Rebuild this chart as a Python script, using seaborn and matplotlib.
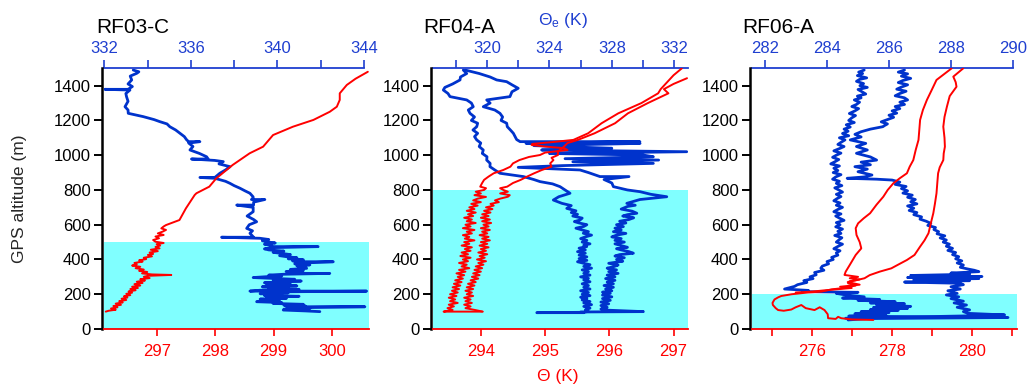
import numpy as np
import matplotlib
matplotlib.use("Agg")
import matplotlib.pyplot as plt
import seaborn as sns
from matplotlib.ticker import FixedLocator

sns.set_style("white")
plt.rcParams['font.family'] = ['Liberation Sans', 'DejaVu Sans']
plt.rcParams['mathtext.fontset'] = 'custom'
plt.rcParams['mathtext.rm'] = 'Liberation Sans'
plt.rcParams['mathtext.it'] = 'Liberation Sans:italic'

RED = '#FF0000'
BLUE = '#0033CC'
AXBLUE = '#1F3FD0'
CYAN = '#80FFFF'

# ---------------- data: (altitude m, value K) ----------------
# RF03-C
rf03_theta = [(1480, 300.61), (1440, 300.40), (1404, 300.25), (1356, 300.13), (1318, 300.13), (1279, 300.08),
              (1250, 299.96), (1203, 299.68), (1164, 299.33), (1116, 298.99), (1049, 298.82), (1011, 298.59),
              (944, 298.30), (867, 298.02), (819, 297.90), (781, 297.68), (771, 297.65), (694, 297.50),
              (627, 297.39), (598, 297.16), (590, 297.12), (579, 297.08), (570, 297.16), (560, 297.10),
              (550, 297.02), (541, 297.12), (532, 296.98), (522, 297.04), (512, 296.94), (502, 296.98),
              (495, 297.12), (488, 297.00), (480, 297.06), (472, 296.98), (464, 297.05), (456, 296.90),
              (448, 297.02), (440, 296.88), (432, 296.94), (426, 296.85), (418, 296.92), (410, 296.78),
              (402, 296.82), (395, 296.70), (388, 296.76), (380, 296.62), (372, 296.66), (365, 296.58),
              (358, 296.72), (350, 296.64), (342, 296.78), (335, 296.70), (328, 296.84), (320, 296.75),
              (314, 296.92), (311, 297.25), (306, 296.85), (300, 296.78), (293, 296.88), (286, 296.72),
              (279, 296.80), (272, 296.66), (265, 296.76), (258, 296.62), (250, 296.72), (243, 296.58),
              (236, 296.68), (230, 296.55), (223, 296.64), (216, 296.52), (209, 296.58), (202, 296.48),
              (195, 296.55), (188, 296.44), (181, 296.50), (174, 296.40), (167, 296.48), (160, 296.36),
              (153, 296.42), (146, 296.30), (139, 296.39), (132, 296.26), (125, 296.33), (118, 296.22),
              (111, 296.30), (105, 296.18), (100, 296.13)]
rf03_thetae = [(1490, 333.34), (1480, 333.60), (1471, 333.50), (1455, 333.20), (1433, 333.27), (1410, 333.10),
               (1395, 333.30), (1379, 333.10), (1379, 332.03), (1375, 333.19), (1355, 333.00), (1337, 333.03),
               (1310, 333.10), (1279, 332.96), (1260, 333.10), (1241, 333.11), (1222, 333.80), (1205, 334.30),
               (1193, 334.57), (1180, 334.90), (1164, 335.03), (1145, 335.30), (1126, 335.50), (1107, 335.70),
               (1088, 335.81), (1078, 335.90), (1078, 336.42), (1070, 335.90), (1050, 336.10), (1030, 335.96),
               (1010, 336.40), (991, 336.73), (978, 336.80), (978, 336.03), (970, 337.10), (963, 337.50),
               (950, 337.30), (934, 337.81), (915, 337.60), (896, 337.34), (872, 337.11), (872, 336.42),
               (867, 337.11), (850, 337.60), (838, 337.81), (825, 338.00), (810, 338.27), (795, 338.50),
               (781, 338.73), (760, 338.88), (752, 338.88), (745, 338.80), (745, 339.42), (730, 338.90),
               (713, 338.90), (713, 338.12), (700, 338.88), (675, 338.88), (650, 338.60), (630, 338.90),
               (617, 339.04), (600, 338.70), (579, 338.58), (565, 338.85), (551, 338.73), (528, 338.90),
               (528, 337.42), (522, 339.19), (515, 339.60), (508, 339.30), (502, 339.50), (495, 339.90),
               (488, 339.40), (481, 339.70), (474, 339.81), (474, 341.88), (468, 339.70), (461, 339.40),
               (455, 339.60), (448, 340.30), (441, 339.80), (435, 340.20), (428, 340.60), (422, 340.10),
               (416, 340.42), (410, 340.90), (404, 340.50), (398, 341.20), (392, 340.70), (387, 341.04),
               (387, 342.58), (381, 341.30), (375, 340.80), (369, 341.50), (363, 340.90), (357, 341.30),
               (349, 341.35), (343, 340.60), (337, 341.20), (331, 340.40), (325, 341.00), (320, 341.04),
               (320, 342.42), (315, 340.30), (310, 339.60), (305, 340.20), (301, 339.50), (296, 338.88),
               (291, 339.90), (286, 340.80), (281, 339.80), (276, 341.10), (271, 340.20), (266, 339.40),
               (263, 339.81), (258, 340.60), (253, 339.50), (248, 340.90), (243, 339.30), (238, 340.50),
               (233, 339.60), (228, 341.00), (223, 339.20), (218, 338.73), (218, 344.12), (213, 339.30),
               (208, 340.50), (203, 339.20), (198, 340.20), (193, 339.40), (188, 341.00), (183, 339.50),
               (177, 340.42), (172, 339.20), (167, 340.10), (162, 339.40), (157, 339.04), (152, 340.20),
               (147, 339.80), (142, 341.20), (137, 340.30), (132, 341.30), (128, 340.42), (128, 344.04),
               (123, 340.60), (118, 341.50), (114, 340.30), (109, 340.27), (104, 341.30), (100, 341.96)]

# RF04-A (two profiles each)
rf04_theta_a = [(1500, 297.13), (1460, 297.00), (1420, 296.90), (1380, 296.80), (1356, 296.76), (1300, 296.50),
                (1241, 296.14), (1184, 295.88), (1126, 295.67), (1088, 295.44), (1075, 295.10), (1065, 294.80),
                (1059, 294.79), (1050, 295.00), (1040, 295.30), (1030, 295.35), (1015, 295.00), (1001, 294.92),
                (990, 294.75), (972, 294.60), (953, 294.50), (934, 294.46), (915, 294.35), (896, 294.20),
                (877, 294.12), (858, 294.05), (840, 294.02), (819, 293.99), (810, 294.08), (800, 294.05),
                (790, 293.92), (780, 294.00), (770, 293.90), (760, 294.08), (750, 293.95), (740, 293.88),
                (730, 294.00), (720, 293.85), (710, 293.95), (700, 293.82), (690, 293.90), (680, 293.78),
                (670, 293.92), (660, 293.80), (650, 293.88), (640, 293.74), (630, 293.86), (620, 293.78),
                (610, 293.92), (600, 293.76), (590, 293.84), (580, 293.72), (570, 293.90), (560, 293.78),
                (550, 293.86), (540, 293.72), (530, 293.82), (520, 293.75), (510, 293.90), (500, 293.74),
                (490, 293.82), (480, 293.70), (470, 293.86), (460, 293.75), (450, 293.84), (440, 293.70),
                (430, 293.80), (420, 293.68), (410, 293.84), (400, 293.72), (390, 293.80), (380, 293.66),
                (370, 293.78), (360, 293.70), (350, 293.82), (340, 293.66), (330, 293.76), (320, 293.62),
                (310, 293.74), (300, 293.64), (290, 293.72), (280, 293.60), (270, 293.70), (260, 293.58),
                (250, 293.68), (240, 293.56), (230, 293.66), (220, 293.55), (210, 293.64), (200, 293.52),
                (190, 293.62), (180, 293.50), (170, 293.60), (160, 293.52), (150, 293.64), (140, 293.50),
                (130, 293.58), (120, 293.48), (110, 293.56), (100, 293.42), (100, 294.02)]
rf04_theta_b = [(1443, 297.21), (1410, 297.00), (1380, 296.85), (1356, 296.92), (1300, 296.60), (1241, 296.29),
                (1184, 296.09), (1126, 295.77), (1088, 295.51), (1070, 295.35), (1045, 295.28), (1020, 295.20),
                (1001, 295.20), (985, 295.10), (972, 295.13), (953, 295.08), (934, 295.10), (915, 294.95),
                (896, 294.83), (877, 294.72), (858, 294.62), (840, 294.50), (819, 294.41), (810, 294.30),
                (800, 294.35), (790, 294.42), (780, 294.30), (770, 294.45), (761, 294.42), (750, 294.30),
                (740, 294.22), (730, 294.28), (720, 294.15), (710, 294.20), (700, 294.08), (690, 294.18),
                (680, 294.05), (670, 294.15), (660, 294.02), (650, 294.12), (640, 294.00), (630, 294.14),
                (620, 294.02), (610, 294.16), (600, 294.04), (590, 294.12), (580, 294.00), (570, 294.14),
                (560, 294.02), (550, 294.10), (540, 293.98), (530, 294.12), (520, 294.02), (510, 294.14),
                (500, 294.00), (490, 294.10), (480, 293.98), (470, 294.12), (460, 294.00), (450, 294.08),
                (440, 293.96), (430, 294.10), (420, 293.98), (410, 294.06), (400, 293.94), (390, 294.08),
                (380, 293.96), (370, 294.04), (360, 293.92), (350, 294.02), (340, 293.90), (330, 294.00),
                (320, 293.88), (310, 293.98), (300, 293.86), (290, 293.96), (280, 293.84), (270, 293.92),
                (260, 293.80), (250, 293.90), (240, 293.78), (230, 293.88), (220, 293.76), (210, 293.86),
                (200, 293.78), (190, 293.88), (180, 293.74), (170, 293.84), (160, 293.76), (150, 293.86),
                (140, 293.74), (130, 293.84), (120, 293.76), (110, 293.90), (100, 294.03)]
rf04_thetae_a = [(1490, 318.48), (1470, 318.70), (1450, 318.30), (1433, 318.27), (1410, 317.80), (1390, 317.30),
                 (1375, 317.20), (1355, 317.50), (1337, 317.63), (1318, 318.70), (1300, 319.00), (1279, 319.12),
                 (1260, 318.80), (1241, 318.91), (1220, 319.20), (1200, 319.00), (1184, 319.40), (1164, 319.34),
                 (1145, 319.10), (1126, 319.40), (1107, 319.20), (1088, 319.34), (1070, 319.60), (1050, 319.50),
                 (1030, 319.76), (1010, 319.70), (991, 320.00), (972, 319.98), (953, 320.20), (934, 320.19),
                 (915, 320.50), (896, 320.83), (877, 322.33), (860, 323.00), (848, 323.40), (835, 324.20),
                 (819, 324.68), (800, 325.00), (781, 325.32), (761, 324.60), (742, 324.25), (723, 324.80),
                 (710, 325.40), (694, 325.11), (680, 325.70), (670, 325.40), (660, 325.80), (650, 325.50),
                 (638, 326.10), (627, 325.96), (618, 325.60), (610, 325.90), (600, 326.40), (590, 326.20),
                 (580, 325.70), (570, 326.10), (560, 326.50), (551, 326.17), (540, 326.70), (530, 326.30),
                 (520, 326.00), (510, 326.40), (500, 326.10), (490, 326.60), (482, 326.20), (474, 326.39),
                 (465, 325.90), (455, 326.30), (445, 325.80), (436, 326.30), (425, 325.90), (415, 326.40),
                 (405, 325.90), (395, 326.40), (387, 325.80), (378, 326.20), (370, 326.60), (360, 326.20),
                 (350, 326.70), (340, 326.10), (330, 326.50), (320, 326.20), (310, 326.60), (300, 326.00),
                 (291, 326.50), (282, 326.20), (272, 326.60), (260, 326.10), (250, 326.50), (240, 326.20),
                 (230, 326.60), (220, 326.00), (210, 326.50), (200, 326.10), (192, 326.60), (183, 326.00),
                 (175, 326.40), (167, 326.10), (158, 326.60), (150, 326.20), (140, 326.70), (130, 326.20),
                 (120, 326.60), (110, 326.30), (102, 326.50), (96, 326.20), (94, 323.19), (94, 326.20)]
rf04_thetae_b = [(1490, 318.60), (1470, 319.50), (1450, 320.20), (1433, 320.62), (1423, 321.26), (1405, 321.60),
                 (1385, 322.00), (1365, 321.60), (1337, 321.47), (1318, 319.98), (1300, 320.20), (1279, 319.76),
                 (1260, 320.50), (1241, 320.83), (1220, 321.00), (1200, 320.90), (1184, 321.26), (1164, 321.30),
                 (1145, 321.50), (1126, 321.69), (1107, 321.80), (1090, 321.90), (1078, 322.12), (1078, 329.80),
                 (1068, 322.50), (1068, 329.81), (1055, 323.00), (1040, 328.00), (1030, 323.50), (1020, 332.80),
                 (1010, 324.00), (1001, 330.00), (991, 330.66), (980, 325.00), (972, 331.00), (962, 325.50),
                 (953, 330.66), (940, 324.80), (930, 322.00), (915, 325.96), (900, 326.50), (877, 327.24),
                 (877, 329.10), (860, 327.50), (840, 328.00), (819, 328.10), (800, 329.00), (790, 329.81),
                 (775, 330.50), (761, 331.52), (745, 329.80), (723, 328.96), (712, 329.50), (705, 329.00),
                 (690, 328.60), (678, 329.30), (666, 329.60), (658, 329.00), (650, 328.70), (640, 329.40),
                 (630, 329.10), (620, 328.50), (610, 328.90), (600, 328.30), (589, 328.74), (580, 328.20),
                 (570, 328.60), (560, 328.10), (550, 328.90), (540, 328.30), (530, 328.00), (520, 328.60),
                 (510, 328.20), (500, 328.80), (490, 328.20), (480, 328.60), (470, 329.00), (462, 328.30),
                 (455, 328.60), (445, 329.10), (436, 329.38), (428, 328.50), (420, 328.20), (410, 328.80),
                 (400, 328.30), (390, 328.70), (378, 327.80), (368, 328.40), (358, 328.10), (350, 327.70),
                 (340, 328.30), (330, 327.80), (320, 328.40), (310, 327.70), (300, 328.20), (290, 327.60),
                 (280, 328.20), (270, 327.70), (260, 328.10), (250, 327.50), (240, 328.10), (230, 327.60),
                 (220, 328.00), (212, 327.40), (205, 327.90), (195, 327.40), (185, 328.00), (175, 327.40),
                 (165, 327.90), (155, 327.30), (145, 327.80), (135, 327.30), (125, 327.70), (115, 327.30),
                 (108, 327.80), (100, 330.02), (98, 326.00)]

# RF06-A
rf06_theta_a = [(1500, 279.50), (1433, 279.12), (1375, 279.00), (1318, 278.88), (1260, 278.78), (1203, 278.71),
                (1145, 278.69), (1088, 278.67), (1030, 278.60), (972, 278.54), (934, 278.45), (896, 278.38),
                (867, 278.20), (838, 278.04), (800, 277.90), (761, 277.79), (715, 277.62), (666, 277.46),
                (637, 277.30), (608, 277.16), (580, 277.10), (541, 277.12), (500, 277.20), (464, 277.24),
                (426, 277.10), (368, 276.95), (330, 276.85), (311, 276.82), (300, 277.16), (292, 276.95),
                (285, 277.20), (275, 276.95), (263, 276.91), (250, 277.10), (236, 276.80), (228, 276.50),
                (215, 276.24), (210, 275.90), (200, 275.50), (190, 275.24), (182, 275.16), (170, 275.07),
                (150, 275.02), (138, 275.03), (120, 275.10), (109, 275.16), (105, 275.30), (112, 275.49),
                (125, 275.60), (138, 275.74), (120, 275.85), (109, 276.07), (125, 276.20), (109, 276.32),
                (100, 276.35), (85, 276.40), (62, 276.41), (58, 276.60), (70, 276.66), (62, 276.74),
                (55, 277.00), (52, 277.54)]
rf06_theta_b = [(1500, 279.79), (1452, 279.54), (1420, 279.60), (1394, 279.62), (1340, 279.45), (1279, 279.38),
                (1220, 279.32), (1164, 279.29), (1100, 279.32), (1049, 279.33), (1010, 279.30), (972, 279.29),
                (930, 279.20), (896, 279.16), (840, 279.14), (781, 279.12), (720, 279.08), (666, 279.04),
                (610, 278.98), (551, 278.92), (510, 278.82), (474, 278.71), (426, 278.57), (397, 278.38),
                (375, 278.20), (349, 277.99), (330, 277.70), (310, 277.45), (292, 277.32), (280, 277.10),
                (270, 276.90), (255, 277.20), (243, 276.71), (236, 277.00), (228, 276.60), (222, 276.30),
                (215, 276.00), (210, 275.60)]
rf06_thetae_a = [(1490, 285.20), (1478, 285.02), (1470, 285.15), (1458, 284.98), (1445, 285.28), (1436, 285.05),
                 (1425, 284.95), (1412, 285.18), (1400, 285.06), (1390, 285.30), (1378, 285.00), (1366, 285.12),
                 (1352, 285.25), (1340, 284.98), (1330, 285.10), (1318, 284.88), (1305, 285.05), (1292, 284.95),
                 (1280, 284.80), (1268, 285.02), (1255, 284.90), (1240, 284.72), (1228, 284.92), (1215, 284.80),
                 (1200, 284.70), (1188, 284.88), (1175, 284.62), (1162, 284.75), (1150, 284.55), (1138, 284.68),
                 (1125, 284.50), (1112, 284.70), (1100, 284.40), (1088, 284.58), (1075, 284.46), (1062, 284.35),
                 (1050, 284.55), (1038, 284.40), (1025, 284.22), (1012, 284.45), (1000, 284.30), (988, 284.18),
                 (975, 284.38), (962, 284.25), (950, 284.12), (938, 284.40), (925, 284.22), (912, 284.35),
                 (900, 284.20), (888, 284.45), (875, 284.28), (862, 284.18), (850, 284.40), (838, 284.30),
                 (825, 284.48), (812, 284.25), (800, 284.38), (788, 284.50), (775, 284.30), (762, 284.45),
                 (750, 284.32), (738, 284.22), (725, 284.42), (712, 284.30), (700, 284.50), (688, 284.35),
                 (675, 284.22), (662, 284.45), (650, 284.28), (638, 284.40), (625, 284.55), (612, 284.30),
                 (600, 284.42), (588, 284.28), (575, 284.50), (562, 284.35), (550, 284.45), (538, 284.25),
                 (525, 284.48), (512, 284.38), (500, 284.30), (488, 284.50), (475, 284.35), (462, 284.22),
                 (450, 284.42), (438, 284.30), (425, 284.35), (412, 284.15), (400, 284.20), (388, 284.00),
                 (375, 284.05), (362, 283.85), (350, 283.80), (338, 283.90), (325, 283.60), (312, 283.65),
                 (300, 283.45), (290, 283.55), (278, 283.25), (268, 283.35), (255, 283.05), (245, 282.95),
                 (236, 282.75), (230, 282.63), (222, 283.40), (215, 283.20), (211, 285.00), (205, 284.30),
                 (196, 284.60), (185, 285.20), (178, 284.50), (170, 285.70), (165, 285.00), (157, 286.20),
                 (150, 285.40), (145, 286.50), (138, 285.60), (130, 286.70), (124, 285.50), (119, 286.60),
                 (112, 285.40), (108, 286.30), (100, 285.10), (94, 286.00), (88, 284.90), (81, 285.90),
                 (74, 284.70), (66, 289.84), (60, 285.30), (52, 284.68)]
rf06_thetae_b = [(1490, 286.50), (1478, 286.30), (1468, 286.60), (1455, 286.40), (1442, 286.70), (1430, 286.45),
                 (1418, 286.30), (1405, 286.60), (1392, 286.40), (1380, 286.25), (1368, 286.55), (1355, 286.35),
                 (1342, 286.20), (1330, 286.50), (1318, 286.60), (1305, 286.35), (1292, 286.50), (1280, 286.20),
                 (1268, 286.35), (1255, 286.10), (1242, 286.25), (1230, 286.00), (1218, 286.15), (1205, 285.95),
                 (1192, 285.75), (1180, 285.95), (1170, 285.85), (1164, 285.80), (1150, 285.40), (1135, 285.10),
                 (1120, 284.90), (1105, 285.10), (1088, 284.75), (1068, 285.25), (1050, 284.95), (1030, 285.30),
                 (1011, 284.95), (990, 285.40), (972, 285.60), (960, 285.10), (945, 285.40), (934, 284.90),
                 (920, 285.30), (905, 285.00), (886, 285.45), (875, 285.20), (867, 284.65), (862, 285.60),
                 (857, 286.10), (845, 286.35), (832, 286.20), (820, 286.55), (808, 286.40), (795, 286.60),
                 (782, 286.45), (770, 286.75), (758, 286.60), (745, 286.85), (732, 286.70), (720, 286.90),
                 (708, 286.60), (695, 286.80), (682, 286.65), (670, 286.90), (658, 286.80), (645, 287.05),
                 (632, 287.00), (620, 287.20), (608, 287.35), (596, 287.25), (584, 287.50), (572, 287.45),
                 (560, 287.60), (548, 287.55), (536, 287.80), (524, 287.65), (512, 287.85), (500, 287.75),
                 (488, 287.95), (476, 287.85), (464, 288.05), (452, 287.90), (440, 288.15), (428, 288.05),
                 (416, 288.25), (404, 288.15), (392, 288.35), (380, 288.20), (368, 288.40), (355, 288.30),
                 (345, 288.55), (338, 288.75), (330, 288.90), (322, 288.00), (315, 288.60), (308, 286.70),
                 (302, 289.00), (296, 286.60), (290, 288.90), (284, 286.80), (278, 288.60), (270, 286.50),
                 (263, 288.30), (255, 288.40), (243, 288.00), (230, 288.30), (220, 287.90), (205, 288.20),
                 (196, 287.85), (185, 288.25), (175, 288.00), (160, 288.40), (150, 288.10), (138, 288.50),
                 (125, 288.20), (110, 288.60), (100, 288.40), (90, 288.55), (81, 289.73), (75, 288.40),
                 (62, 284.60)]

titles = ['RF03-C', 'RF04-A', 'RF06-A']
mixed_layer_top = [500, 800, 200]
theta_series = [[rf03_theta], [rf04_theta_a, rf04_theta_b], [rf06_theta_a, rf06_theta_b]]
thetae_series = [[rf03_thetae], [rf04_thetae_a, rf04_thetae_b], [rf06_thetae_a, rf06_thetae_b]]
theta_lims = [(296.10, 300.63), (293.25, 297.23), (274.50, 281.125)]
thetae_lims = [(331.99, 344.23), (316.52, 332.90), (281.57, 290.12)]
theta_major = [[297, 298, 299, 300], [294, 295, 296, 297], [276, 278, 280]]
theta_minor = [[], [], [275, 277, 279, 281]]
thetae_major = [[332, 336, 340, 344], [320, 324, 328, 332], [282, 284, 286, 288, 290]]
thetae_minor = [[334, 338, 342], [318, 322, 326, 330], []]
thetae_bounds = [(332, 344), None, (281.57, 290)]
y_ticks = [0, 200, 400, 600, 800, 1000, 1200, 1400]

# ---------------- layout ----------------
W, H = 1030, 386
fig = plt.figure(figsize=(W / 100, H / 100), dpi=100)
rects_px = [(104, 369), (432.7, 688.3), (751.7, 1016.7)]
title_x_px = [96, 423, 742.7]
bottom_px, top_px = 329, 68.3

for i in range(3):
    x0, x1 = rects_px[i]
    rect = [x0 / W, 1 - bottom_px / H, (x1 - x0) / W, (bottom_px - top_px) / H]
    ax = fig.add_axes(rect)
    axt = ax.twiny()
    axt.set_zorder(0)
    ax.set_zorder(1)
    ax.patch.set_visible(False)
    axt.patch.set_visible(False)

    axt.axhspan(0, mixed_layer_top[i], color=CYAN, lw=0, zorder=0)

    for s in thetae_series[i]:
        arr = np.array(s)
        sns.lineplot(x=arr[:, 1], y=arr[:, 0], ax=axt, sort=False, estimator=None,
                     color=BLUE, lw=2.0, zorder=2)
    for s in theta_series[i]:
        arr = np.array(s)
        sns.lineplot(x=arr[:, 1], y=arr[:, 0], ax=ax, sort=False, estimator=None,
                     color=RED, lw=1.4, zorder=3)

    ax.set_xlim(*theta_lims[i])
    axt.set_xlim(*thetae_lims[i])
    ax.set_ylim(0, 1500)
    axt.set_ylim(0, 1500)
    for a in (ax, axt):
        a.set_xlabel('')
        a.set_ylabel('')

    # spines
    for sp in ['top', 'right']:
        ax.spines[sp].set_visible(False)
    ax.spines['left'].set_color('black')
    ax.spines['left'].set_linewidth(1.8)
    ax.spines['left'].set_position(('outward', 1.5))
    ax.spines['bottom'].set_color(RED)
    ax.spines['bottom'].set_linewidth(1.3)
    for sp in ['bottom', 'left', 'right']:
        axt.spines[sp].set_visible(False)
    axt.spines['top'].set_color(AXBLUE)
    axt.spines['top'].set_linewidth(1.3)
    if thetae_bounds[i] is not None:
        axt.spines['top'].set_bounds(*thetae_bounds[i])

    ax.yaxis.set_major_locator(FixedLocator(y_ticks))
    ax.xaxis.set_major_locator(FixedLocator(theta_major[i]))
    ax.xaxis.set_minor_locator(FixedLocator(theta_minor[i]))
    axt.xaxis.set_major_locator(FixedLocator(thetae_major[i]))
    axt.xaxis.set_minor_locator(FixedLocator(thetae_minor[i]))

    ax.tick_params(axis='y', which='major', direction='out', length=6, width=1.4,
                   color='black', labelcolor='black', labelsize=12, pad=2, left=True)
    ax.tick_params(axis='x', which='both', direction='out', length=5, width=1.2,
                   color=RED, labelcolor=RED, labelsize=12, pad=6, bottom=True)
    axt.tick_params(axis='x', which='both', direction='out', length=6, width=1.2,
                    color=AXBLUE, labelcolor=AXBLUE, labelsize=12, pad=3, top=True)
    for a in (ax, axt):
        if a.get_legend() is not None:
            a.get_legend().remove()

    fig.text(title_x_px[i] / W, 1 - 27.5 / H, titles[i], fontsize=15, ha='left', va='center', color='black')

fig.text(19.5 / W, 1 - 199 / H, 'GPS altitude (m)', rotation=90, fontsize=12.5, ha='center', va='center')
fig.text(563 / W, 1 - 21 / H, 'Θ$_\\mathrm{e}$ (K)', fontsize=12.5, ha='center', va='center', color=AXBLUE)
fig.text(558 / W, 1 - 376 / H, 'Θ (K)', fontsize=12.5, ha='center', va='center', color=RED)

fig.savefig('out.png', dpi=100)
